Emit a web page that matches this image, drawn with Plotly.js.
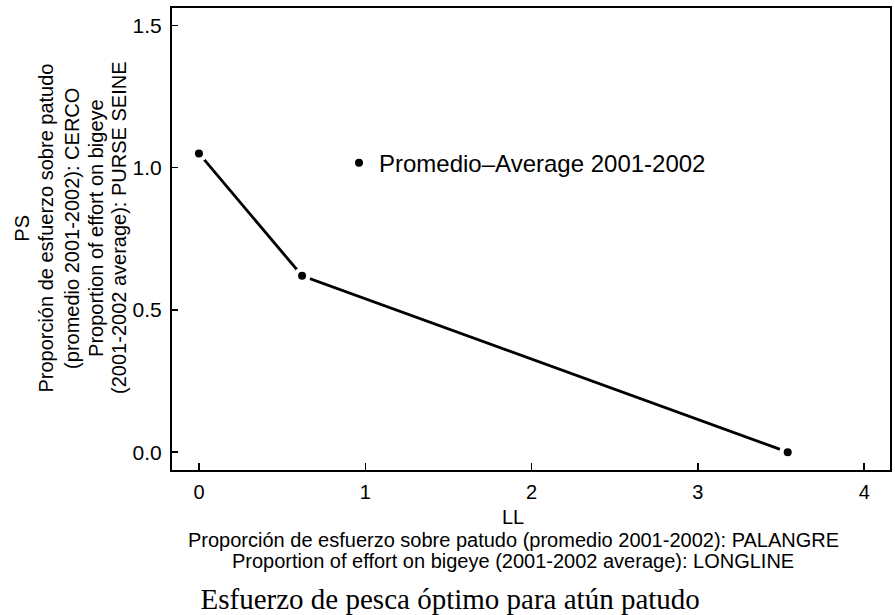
<!DOCTYPE html>
<html>
<head>
<meta charset="utf-8">
<script src="https://cdn.plot.ly/plotly-3.0.1.min.js"></script>
<style>html,body{margin:0;padding:0;background:#fff;}#chart{width:895px;height:615px;}</style>
</head>
<body>
<div id="chart"></div>
<script>
// Data
const llEffort = [0, 0.62, 3.54];
const psEffort = [1.05, 0.62, 0.0];
const seriesName = "Promedio\u2013Average 2001-2002";
const xTickVals = [0, 1, 2, 3, 4];
const xTickText = ["0", "1", "2", "3", "4"];
const yTickVals = [0, 0.5, 1.0, 1.5];
const yTickText = ["0.0", "0.5", "1.0", "1.5"];
const xTitleLines = ["LL",
  "Proporción de esfuerzo sobre patudo (promedio 2001-2002): PALANGRE",
  "Proportion of effort on bigeye (2001-2002 average): LONGLINE"];
const yTitleLines = ["PS",
  "Proporción de esfuerzo sobre patudo",
  "(promedio 2001-2002): CERCO",
  "Proportion of effort on bigeye",
  "(2001-2002 average): PURSE SEINE"];
const chartTitle = "Esfuerzo de pesca óptimo para atún patudo";

const sans = "Liberation Sans, Arial, sans-serif";

// Layout helpers (positions of each title line, in paper coordinates)
const xTitleX = 0.475;
const xTitleY = [-0.101, -0.1515, -0.196];
const yTitleX = [-0.2093, -0.1759, -0.1393, -0.1058, -0.0738];
const yTitleY = 0.524;

const traces = [
  {x: llEffort, y: psEffort, mode: "lines", line: {color: "#000", width: 2.8},
   showlegend: false, hoverinfo: "skip"},
  {x: llEffort, y: psEffort, mode: "markers", marker: {color: "#fff", size: 17},
   showlegend: false, hoverinfo: "skip"},
  {x: llEffort, y: psEffort, mode: "markers", name: seriesName,
   marker: {color: "#000", size: 8}}
];

const annotations = [];
xTitleLines.forEach((t, i) => annotations.push({
  text: t, xref: "paper", yref: "paper", x: xTitleX, y: xTitleY[i],
  xanchor: "center", yanchor: "middle", showarrow: false, font: {size: 20, family: sans}
}));
yTitleLines.forEach((t, i) => annotations.push({
  text: t, xref: "paper", yref: "paper", x: yTitleX[i], y: yTitleY,
  xanchor: "center", yanchor: "middle", textangle: -90, showarrow: false, font: {size: 20, family: sans}
}));

const layout = {
  width: 895, height: 615,
  margin: {l: 172, r: 5, t: 8, b: 145},
  paper_bgcolor: "#fff", plot_bgcolor: "#fff",
  font: {family: sans, color: "#000"},
  title: {text: chartTitle, font: {family: "Liberation Serif, Times New Roman, serif", size: 29, color: "#000"},
    xref: "container", x: 0.503, xanchor: "center", yref: "container", y: 0.027, yanchor: "middle"},
  xaxis: {range: [-0.162, 4.155], tickvals: xTickVals, ticktext: xTickText,
    ticks: "inside", ticklen: 7, tickwidth: 1.5, tickcolor: "#000",
    showline: true, linecolor: "#000", linewidth: 2, mirror: true,
    showgrid: false, zeroline: false, tickfont: {size: 20, family: sans}, ticklabelstandoff: 3},
  yaxis: {range: [-0.0626, 1.561], tickvals: yTickVals, ticktext: yTickText,
    ticks: "inside", ticklen: 6, tickwidth: 1.5, tickcolor: "#000",
    showline: true, linecolor: "#000", linewidth: 2, mirror: true,
    showgrid: false, zeroline: false, tickfont: {size: 21, family: sans}, ticklabelstandoff: 4},
  showlegend: true,
  legend: {x: 0.2326, xanchor: "left", y: 0.664, yanchor: "middle", bgcolor: "rgba(0,0,0,0)",
    font: {size: 24, family: sans}, borderwidth: 0},
  annotations: annotations
};

Plotly.newPlot("chart", traces, layout, {displayModeBar: false, staticPlot: true});
</script>
</body>
</html>
